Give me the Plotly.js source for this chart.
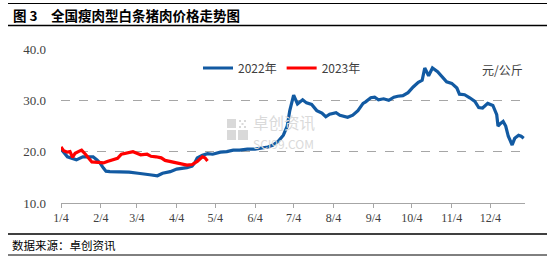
<!DOCTYPE html>
<html>
<head>
<meta charset="utf-8">
<script src="https://cdn.plot.ly/plotly-3.0.1.min.js"></script>
<style>
html,body{margin:0;padding:0;background:#fff;}
#chart{width:555px;height:259px;}
</style>
</head>
<body>
<div id="chart"></div>
<script>
// ---- data ----
const dates2022 = ['2022-01-04','2022-01-05','2022-01-09','2022-01-13','2022-01-16','2022-01-21','2022-01-25','2022-01-29','2022-02-01','2022-02-03','2022-02-06','2022-02-08','2022-02-11','2022-02-20','2022-02-26','2022-03-05','2022-03-10','2022-03-14','2022-03-20','2022-03-24','2022-03-30','2022-04-04','2022-04-12','2022-04-16','2022-04-18','2022-04-20','2022-04-24','2022-04-28','2022-05-02','2022-05-08','2022-05-13','2022-05-18','2022-05-23','2022-05-29','2022-06-04','2022-06-10','2022-06-14','2022-06-18','2022-06-22','2022-06-26','2022-06-29','2022-07-01','2022-07-03','2022-07-04','2022-07-07','2022-07-09','2022-07-11','2022-07-14','2022-07-18','2022-07-22','2022-07-26','2022-07-29','2022-08-01','2022-08-06','2022-08-09','2022-08-15','2022-08-19','2022-08-23','2022-08-27','2022-08-29','2022-09-02','2022-09-05','2022-09-08','2022-09-12','2022-09-16','2022-09-20','2022-09-23','2022-09-27','2022-10-01','2022-10-05','2022-10-09','2022-10-12','2022-10-14','2022-10-17','2022-10-20','2022-10-24','2022-10-28','2022-10-31','2022-11-04','2022-11-08','2022-11-10','2022-11-14','2022-11-18','2022-11-22','2022-11-25','2022-11-28','2022-12-02','2022-12-06','2022-12-09','2022-12-10','2022-12-12','2022-12-14','2022-12-16','2022-12-18','2022-12-21','2022-12-23','2022-12-26','2022-12-28','2022-12-30'];
const price2022 = [20.7,20.2,19.0,18.6,18.4,19.0,19.0,19.0,18.4,17.9,16.8,16.2,16.1,16.1,16.0,15.8,15.7,15.5,15.3,15.8,16.1,16.6,16.9,17.2,17.8,18.8,19.3,19.6,19.5,19.9,20.0,20.3,20.3,20.5,20.5,20.7,20.9,21.3,22.0,23.2,25.0,28.0,30.3,31.0,29.3,29.8,30.1,29.5,29.2,28.0,27.5,26.8,27.3,27.6,27.1,26.7,27.1,28.0,29.4,29.7,30.5,30.6,30.1,30.3,30.0,30.6,30.8,30.9,31.5,32.6,33.5,33.9,36.3,34.8,36.3,35.6,34.5,33.6,33.3,32.4,31.2,31.1,30.5,29.8,28.6,28.5,29.4,29.0,27.2,25.0,25.5,25.9,25.0,23.0,21.3,22.6,23.2,23.0,22.6];
const dates2023 = ['2023-01-04','2023-01-06','2023-01-09','2023-01-11','2023-01-13','2023-01-15','2023-01-19','2023-01-20','2023-01-23','2023-01-25','2023-01-28','2023-02-02','2023-02-06','2023-02-09','2023-02-14','2023-02-17','2023-02-20','2023-02-24','2023-02-26','2023-03-01','2023-03-03','2023-03-07','2023-03-12','2023-03-15','2023-03-19','2023-03-23','2023-03-26','2023-03-31','2023-04-04','2023-04-08','2023-04-12','2023-04-16','2023-04-18','2023-04-20','2023-04-24','2023-04-26','2023-04-28'];
const price2023 = [20.9,20.2,19.9,20.0,18.9,19.7,20.2,20.3,19.5,18.8,18.0,17.9,17.8,18.1,18.4,18.7,19.5,19.7,19.9,20.0,19.8,19.4,19.5,19.1,19.0,18.8,18.3,18.0,17.8,17.5,17.4,17.5,17.8,18.1,19.0,18.8,18.2];
const seriesNames = ['2022年','2023年'];
const tickDates = ['2022-01-04','2022-02-04','2022-03-04','2022-04-04','2022-05-04','2022-06-04','2022-07-04','2022-08-04','2022-09-04','2022-10-04','2022-11-04','2022-12-04'];
const tickLabels = ['1/4','2/4','3/4','4/4','5/4','6/4','7/4','8/4','9/4','10/4','11/4','12/4'];
const yTicks = [10,20,30,40];
const yTickLabels = ['10.0','20.0','30.0','40.0'];
const titleText = '图 3　全国瘦肉型白条猪肉价格走势图';
const unitText = '元/公斤';
const sourceText = '数据来源：卓创资讯';

// ---- geometry helpers (pixel -> paper) ----
const M = {l:61, r:30, t:49, b:56};
const W = 555, H = 259;
const pw = W - M.l - M.r, ph = H - M.t - M.b;
const px = x => (x - M.l) / pw;
const py = y => (H - M.b - y) / ph;

const serif = '"Liberation Serif", "DejaVu Serif", serif';
const cjk = '"Noto Sans CJK SC", sans-serif';

const traces = [
  {x: dates2022, y: price2022, name: seriesNames[0], type:'scatter', mode:'lines',
   line:{color:'#125AA2', width:3.2}},
  {x: dates2023.map(d => '2022' + d.slice(4)), y: price2023, name: seriesNames[1], type:'scatter', mode:'lines',
   line:{color:'#FF0000', width:3.2}}
];

const logo = (x0,x1,y0,y1) => ({type:'rect', xref:'paper', yref:'paper', x0:px(x0), x1:px(x1), y0:py(y1), y1:py(y0),
  fillcolor:'#D9D9D9', line:{width:0}, layer:'below'});

const shapes = [
  // title and footer rules
  {type:'line', xref:'paper', yref:'paper', x0:px(8), x1:px(547), y0:py(3.5), y1:py(3.5), line:{color:'#000', width:1}},
  {type:'line', xref:'paper', yref:'paper', x0:px(8), x1:px(547), y0:py(25.5), y1:py(25.5), line:{color:'#000', width:1.5}},
  {type:'line', xref:'paper', yref:'paper', x0:px(8), x1:px(547), y0:py(234), y1:py(234), line:{color:'#000', width:1.5}},
  {type:'line', xref:'paper', yref:'paper', x0:px(8), x1:px(547), y0:py(255), y1:py(255), line:{color:'#000', width:1}},
  // watermark logo
  logo(227,236,119,128), logo(227,236,130,140), logo(238,248,130,140),
  logo(239,241,120,122), logo(244,246,120,122), logo(241.5,243.5,123,125),
  logo(239,241,126,128), logo(244,246,126,128)
];

const annotations = [
  {xref:'paper', yref:'paper', x:px(11), y:py(15), xanchor:'left', yanchor:'middle', showarrow:false,
   text:'<b>' + titleText + '</b>', font:{family:cjk, size:13.5, color:'#000'}},
  {xref:'paper', yref:'paper', x:px(10), y:py(245), xanchor:'left', yanchor:'middle', showarrow:false,
   text:sourceText, font:{family:cjk, size:11.5, color:'#000'}},
  {xref:'paper', yref:'paper', x:px(525), y:py(69), xanchor:'right', yanchor:'middle', showarrow:false,
   text:unitText, font:{family:cjk, size:12, color:'#404040'}},
  {xref:'paper', yref:'paper', x:px(251), y:py(131), xanchor:'left', yanchor:'middle', showarrow:false, align:'left',
   text:'卓创资讯<br><span style="font-size:12px">SCI99.COM</span>',
   font:{family:cjk, size:15.5, color:'#DADADA'}}
];

const layout = {
  width: W, height: H,
  margin: M,
  paper_bgcolor:'#fff', plot_bgcolor:'#fff',
  showlegend: true,
  legend: {orientation:'h', x:px(198), y:py(68), xanchor:'left', yanchor:'middle',
           font:{family:cjk, size:12, color:'#404040'}, bgcolor:'rgba(0,0,0,0)',
           itemwidth:30, traceorder:'normal', tracegroupgap:0},
  xaxis: {type:'date', range:['2022-01-04','2022-12-31'], tickmode:'array', tickvals:tickDates, ticktext:tickLabels,
          showgrid:false, zeroline:false, showline:true, linecolor:'#A6A6A6', linewidth:1,
          ticks:'outside', ticklen:4, tickcolor:'#A6A6A6', tickfont:{family:serif, size:12, color:'#404040'}},
  yaxis: {range:[10,40], tickmode:'array', tickvals:yTicks, ticktext:yTickLabels,
          showgrid:true, gridcolor:'#A6A6A6', griddash:'dash', gridwidth:1, zeroline:false, showline:false,
          ticks:'', ticklabelstandoff:14, tickfont:{family:serif, size:13, color:'#404040'}},
  shapes: shapes,
  annotations: annotations,
  hovermode:false
};

Plotly.newPlot('chart', traces, layout, {staticPlot:true, displayModeBar:false});
</script>
</body>
</html>
